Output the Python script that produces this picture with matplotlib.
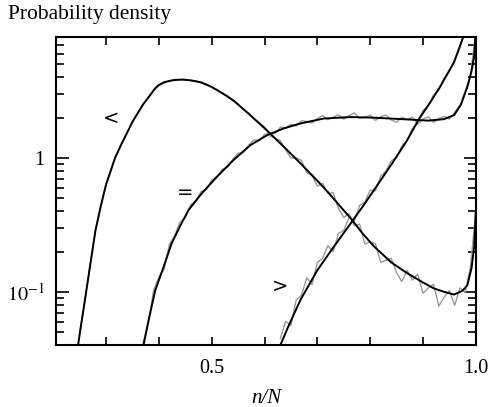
import matplotlib
matplotlib.use("Agg")
import matplotlib.pyplot as plt
from matplotlib.ticker import FixedLocator, NullFormatter, LogLocator

plt.rcParams['font.family'] = ['Liberation Serif', 'DejaVu Serif']
plt.rcParams['mathtext.fontset'] = 'stix'

# smooth (theory) curves: n/N and probability density
lt_x = [0.247, 0.26, 0.27, 0.28, 0.29, 0.30, 0.317, 0.33, 0.35, 0.37, 0.38, 0.393, 0.40,
        0.41, 0.42, 0.43, 0.443, 0.46, 0.48, 0.50, 0.52, 0.541, 0.57, 0.605, 0.64, 0.668,
        0.70, 0.72, 0.744, 0.763, 0.785, 0.807, 0.84, 0.87, 0.90, 0.921, 0.94, 0.959,
        0.975, 0.984, 0.992, 0.997, 1.0]
lt_y = [0.040, 0.087, 0.158, 0.288, 0.437, 0.63, 1.0, 1.29, 1.86, 2.51, 2.82, 3.31, 3.51,
        3.67, 3.76, 3.82, 3.85, 3.80, 3.67, 3.39, 3.05, 2.69, 2.14, 1.60, 1.175, 0.912,
        0.676, 0.556, 0.432, 0.355, 0.275, 0.219, 0.166, 0.138, 0.1175, 0.106, 0.100, 0.0955,
        0.102, 0.112, 0.151, 0.219, 0.398]

eq_x = [0.371, 0.38, 0.393, 0.41, 0.424, 0.44, 0.456, 0.48, 0.51, 0.541, 0.573, 0.605,
        0.636, 0.668, 0.712, 0.763, 0.806, 0.87, 0.91, 0.94, 0.959, 0.972, 0.984, 0.992,
        0.997, 1.0]
eq_y = [0.040, 0.060, 0.102, 0.158, 0.229, 0.309, 0.407, 0.537, 0.724, 0.962, 1.245, 1.48,
        1.66, 1.81, 1.97, 2.02, 2.00, 1.94, 1.90, 1.95, 2.09, 2.51, 3.39, 4.47,
        5.75, 8.9]

gt_x = [0.630, 0.645, 0.668, 0.70, 0.73, 0.763, 0.79, 0.807, 0.84, 0.870, 0.892, 0.913,
        0.934, 0.959, 0.975, 0.98]
gt_y = [0.040, 0.055, 0.087, 0.145, 0.214, 0.324, 0.457, 0.574, 0.891, 1.355, 1.94, 2.57,
        3.49, 5.20, 7.76, 8.9]

# simulated histograms (gray), bins of 0.01
lt_hx = [round(0.25 + 0.01 * i, 2) for i in range(76)]
lt_hy = [0.050, 0.0851, 0.162, 0.288, 0.427, 0.646, 0.832, 1.072, 1.288, 1.531,
         1.884, 2.163, 2.483, 2.851, 3.199, 3.467, 3.715, 3.758, 3.864, 3.828,
         3.873, 3.784, 3.776, 3.631, 3.565, 3.365, 3.236, 3.02, 2.917, 2.679,
         2.541, 2.291, 2.163, 1.950, 1.841, 1.706, 1.466, 1.403, 1.346, 1.148,
         1.0, 1.0, 0.959, 0.776, 0.741, 0.617, 0.646, 0.543, 0.550, 0.420,
         0.359, 0.383, 0.313, 0.320, 0.2275, 0.236, 0.2286, 0.166, 0.172, 0.178,
         0.139, 0.1194, 0.1445, 0.1222, 0.1358, 0.0977, 0.1069, 0.114, 0.0782, 0.0912,
         0.1023, 0.0794, 0.107, 0.0989, 0.155, 0.398]

eq_hx = [round(0.37 + 0.01 * i, 2) for i in range(64)]
eq_hy = [0.0417, 0.0575, 0.1023, 0.1288, 0.148, 0.2265, 0.263, 0.331, 0.359, 0.447,
         0.479, 0.562, 0.582, 0.684, 0.724, 0.822, 0.851, 0.977, 1.084, 1.096,
         1.245, 1.365, 1.349, 1.496, 1.531, 1.517, 1.698, 1.679, 1.786, 1.730,
         1.897, 1.871, 1.824, 1.968, 2.075, 1.932, 2.018, 2.104, 1.950, 2.070,
         2.168, 1.972, 2.009, 2.089, 1.905, 2.032, 2.094, 1.923, 1.849, 2.014,
         1.936, 2.018, 1.786, 1.950, 2.032, 1.841, 1.968, 2.042, 1.950, 2.193,
         2.455, 3.162, 4.074, 8.9]

gt_hx = [round(0.63 + 0.01 * i, 2) for i in range(36)]
gt_hy = [0.0447, 0.0603, 0.0562, 0.0871, 0.0944, 0.1274, 0.1135, 0.166, 0.178, 0.2213,
         0.1995, 0.2723, 0.2884, 0.359, 0.339, 0.4416, 0.4677, 0.575, 0.5689, 0.7328,
         0.798, 0.955, 1.0, 1.230, 1.355, 1.660, 1.832, 2.265, 2.455, 2.951,
         3.199, 3.936, 4.467, 5.433, 6.839, 8.913]

labels = ['<', '=', '>']
label_x = [0.31, 0.45, 0.63]
label_y = [1.97, 0.55, 0.11]

fig = plt.figure(figsize=(4.9, 4.07), dpi=100)
ax = fig.add_axes([0.114, 0.152, 0.857, 0.757])

for hx, hy in [(lt_hx, lt_hy), (eq_hx, eq_hy), (gt_hx, gt_hy)]:
    ax.plot(hx, hy, color='#999999', lw=1.0)
for cx, cy in [(lt_x, lt_y), (eq_x, eq_y), (gt_x, gt_y)]:
    ax.plot(cx, cy, color='black', lw=1.4)

for s, lx, ly in zip(labels, label_x, label_y):
    ax.text(lx, ly, s, fontsize=14, family='DejaVu Sans', ha='center', va='center')

ax.set_yscale('log')
ax.set_xlim(0.205, 1.0)
ax.set_ylim(0.04, 8.0)

ax.xaxis.set_major_locator(FixedLocator([0.3, 0.4, 0.5, 0.6, 0.7, 0.8, 0.9, 1.0]))
ax.set_xticklabels(['', '', '0.5', '', '', '', '', '1.0'])
ax.yaxis.set_major_locator(FixedLocator([0.1, 1.0]))
ax.set_yticklabels(['$10^{-1}$', '1'])
ax.yaxis.set_minor_locator(LogLocator(base=10, subs=range(2, 10)))
ax.yaxis.set_minor_formatter(NullFormatter())

ax.tick_params(which='both', direction='in', top=True, right=True, labelsize=14.5, width=1.2)
ax.tick_params(axis='y', which='major', length=9, pad=8)
ax.tick_params(axis='y', which='minor', length=6)
ax.tick_params(axis='x', which='major', length=6, pad=10)
for sp in ax.spines.values():
    sp.set_linewidth(1.5)

ax.set_xlabel('n/N', fontsize=15, style='italic', labelpad=8)
fig.text(0.016, 0.965, 'Probability density', fontsize=15.5, ha='left', va='center')

fig.savefig('out.png', dpi=100)
